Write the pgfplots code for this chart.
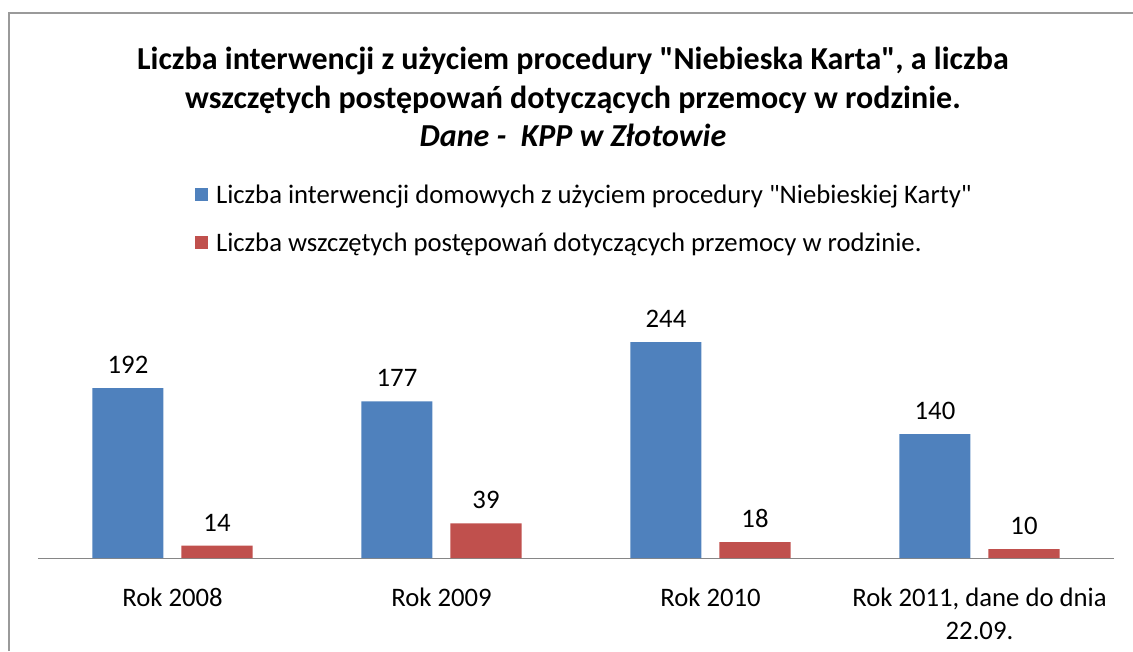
\documentclass[border=0pt]{standalone}
\usepackage{fontspec}
\setmainfont{Carlito}[Ligatures=TeXOff]
\usepackage{pgfplots}
\pgfplotsset{compat=1.18}
\definecolor{barblue}{HTML}{4F81BD}
\definecolor{barred}{HTML}{C0504D}
\definecolor{framegray}{HTML}{9A9A9A}
\definecolor{axisgray}{HTML}{868686}

\begin{document}
\begin{tikzpicture}[x=1pt,y=1pt]
\useasboundingbox (0,0) rectangle (1133,651);
\draw[framegray, line width=1.3pt] (9,0) -- (9,638) -- (1133,638);
\node[align=center, font=\fontsize{32}{38.5}\selectfont\bfseries] at (573,554)
  {Liczba interwencji z użyciem procedury "Niebieska Karta", a liczba\\
   wszczętych postępowań dotyczących przemocy w rodzinie.\\
   \textit{Dane -\ \ KPP w Złotowie}};
\begin{axis}[
  at={(38pt,93pt)}, anchor=south west,
  scale only axis, width=1076pt, height=265.5pt,
  ymin=0, ymax=300, xmin=-0.5, xmax=3.5,
  axis x line*=bottom, axis y line=none,
  x axis line style={axisgray, line width=1pt, -},
  ytick=\empty,
  xtick=data,
  xtick style={draw=none},
  xticklabels={Rok 2008, Rok 2009, Rok 2010, {Rok 2011, dane do dnia\\22.09.}},
  xticklabel style={font=\fontsize{26.7}{33}\selectfont, align=center, yshift=-22pt},
  ybar=18pt, bar width=71pt,
  every axis plot post/.append style={legend image code/.code={\fill[#1] (0pt,-6.5pt) rectangle (13pt,6.5pt);}},
  nodes near coords,
  /pgf/number format/assume math mode=true,
  nodes near coords style={font=\fontsize{26.7}{26.7}\selectfont, text=black, yshift=11pt},
  legend style={at={(0.143,1.422)}, anchor=north west, draw=none, fill=none,
    font=\fontsize{26.7}{26.7}\selectfont, row sep=24pt,
    nodes={inner xsep=8pt}},
  legend cell align=left,
]
\addplot[fill=barblue, draw=none] coordinates {(0,192) (1,177) (2,244) (3,140)};
\addplot[fill=barred, draw=none] coordinates {(0,14) (1,39) (2,18) (3,10)};
\legend{Liczba interwencji domowych z użyciem procedury "Niebieskiej Karty",
  Liczba wszczętych postępowań dotyczących przemocy w rodzinie.}
\end{axis}
\end{tikzpicture}
\end{document}
